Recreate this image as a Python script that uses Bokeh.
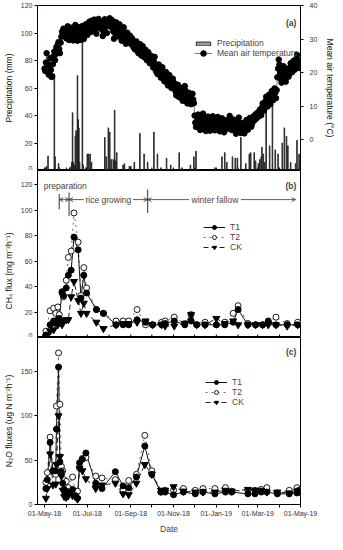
import pandas as pd
from bokeh.plotting import figure
from bokeh.layouts import column
from bokeh.models import (Range1d, LinearAxis, FixedTicker, DatetimeTickFormatter,
                          Legend, LegendItem, Label, Arrow, OpenHead)
from bokeh.embed import file_html
from bokeh.resources import INLINE

# ----------------------------- data -----------------------------
# (a) daily mean air temperature (deg C), starting 2018-05-01
temp_start = "2018-05-01"
temp_may = [21.2, 20.5, 23.0, 25.8, 22.6, 20.1, 19.4, 22.0, 24.3, 20.8, 18.7, 18.9, 22.5, 24.9, 26.3,
            23.7, 25.5, 27.6, 26.2, 28.4, 29.1, 27.0, 25.8, 28.9, 30.7, 32.2, 31.0, 33.1, 32.4, 30.9, 31.5]
temp_jun = [30.2, 32.6, 33.8, 31.4, 29.7, 30.5, 32.9, 33.4, 31.8, 30.1, 29.6, 31.2, 33.0, 34.2, 32.5,
            30.8, 29.5, 31.7, 33.6, 32.0, 30.3, 29.8, 32.4, 33.9, 31.5, 30.0, 31.9, 33.2, 34.4, 32.7]
temp_jul = [31.2, 33.5, 34.6, 35.2, 33.8, 32.1, 34.9, 35.5, 34.0, 33.2, 35.8, 34.7, 33.0, 31.6, 34.3,
            35.6, 36.0, 34.8, 33.4, 35.1, 34.2, 32.8, 30.9, 32.5, 34.6, 35.9, 35.3, 33.7, 31.8, 33.9, 35.0]
temp_aug = [35.4, 36.2, 34.9, 33.6, 35.7, 34.5, 32.3, 30.1, 31.8, 33.9, 35.0, 34.2, 32.6, 30.8, 33.1,
            34.4, 33.0, 31.2, 29.5, 30.9, 32.7, 33.5, 31.4, 29.8, 28.6, 30.3, 31.9, 30.5, 28.9, 29.7, 31.0]
temp_sep = [29.6, 28.4, 30.2, 29.0, 27.5, 28.8, 26.9, 27.7, 29.3, 28.1, 26.4, 25.8, 27.2, 28.5, 26.7,
            25.1, 26.3, 27.9, 26.0, 24.6, 25.4, 26.8, 24.9, 23.7, 25.2, 26.1, 24.3, 22.8, 23.9, 25.0]
temp_oct = [24.2, 22.6, 21.5, 23.3, 24.7, 22.1, 20.4, 21.8, 19.6, 20.9, 22.4, 21.0, 19.2, 18.5, 20.3,
            21.6, 19.9, 18.1, 17.4, 19.0, 20.2, 18.7, 17.0, 16.2, 17.8, 19.3, 18.0, 16.5, 15.4, 16.9, 18.2]
temp_nov = [17.1, 15.8, 16.6, 14.3, 13.2, 15.0, 16.4, 14.8, 12.7, 13.9, 15.5, 14.1, 12.3, 11.6, 13.4,
            15.2, 16.0, 14.6, 12.9, 11.2, 10.8, 12.5, 14.0, 13.1, 11.4, 10.6, 12.2, 13.7, 12.0, 10.9]
temp_dec = [7.2, 5.1, 3.8, 4.6, 6.3, 7.5, 5.8, 4.2, 2.9, 3.5, 5.0, 6.7, 7.8, 6.1, 4.4,
            3.2, 2.6, 4.0, 5.5, 6.9, 5.3, 3.9, 2.7, 3.6, 4.8, 6.2, 7.0, 5.6, 4.1, 2.8, 3.4]
temp_jan = [4.3, 5.7, 6.8, 5.2, 3.4, 2.5, 3.9, 5.1, 6.4, 4.7, 3.1, 2.2, 3.7, 4.9, 5.8,
            4.5, 3.3, 4.6, 5.9, 7.1, 5.4, 4.0, 2.9, 3.8, 5.2, 6.0, 4.4, 3.0, 1.8, 2.7, 4.1]
temp_feb = [5.5, 6.6, 4.8, 3.2, 2.0, 3.6, 5.0, 4.2, 2.5, 1.9, 3.3, 4.7, 5.9, 4.4, 3.0,
            4.5, 5.8, 6.5, 5.1, 3.9, 4.8, 6.2, 7.0, 5.7, 6.8, 7.6, 6.3, 7.2]
temp_mar = [8.1, 6.9, 7.8, 9.0, 8.4, 7.3, 9.6, 10.8, 9.5, 8.7, 10.2, 11.5, 12.8, 11.0, 9.9,
            11.7, 13.4, 12.1, 10.6, 12.9, 14.5, 13.2, 11.8, 13.6, 15.3, 14.0, 12.4, 14.8, 18.6, 21.2, 23.9]
temp_apr = [22.4, 19.8, 18.1, 17.0, 18.9, 20.6, 21.9, 20.2, 18.5, 17.3, 19.4, 21.1, 20.0, 18.8, 19.7,
            21.5, 22.8, 21.3, 20.1, 22.0, 23.5, 22.2, 20.9, 22.6, 24.1, 25.3, 23.8, 22.5, 21.4, 23.0]

# (a) daily precipitation (mm), rain days only
precip_dates = ["2018-05-03", "2018-05-04", "2018-05-06", "2018-05-15", "2018-05-16", "2018-05-21",
                "2018-05-22", "2018-06-04", "2018-06-06", "2018-06-08", "2018-06-09", "2018-06-10",
                "2018-06-11", "2018-06-13", "2018-06-14", "2018-06-15", "2018-06-17", "2018-06-18",
                "2018-06-19", "2018-06-20", "2018-06-24", "2018-06-25", "2018-06-29", "2018-07-01",
                "2018-07-03", "2018-07-05", "2018-07-07", "2018-07-26", "2018-07-28", "2018-07-31",
                "2018-08-02", "2018-08-04", "2018-08-07", "2018-08-09", "2018-08-10", "2018-08-12",
                "2018-08-21", "2018-08-23", "2018-08-30", "2018-09-01", "2018-09-06", "2018-09-14",
                "2018-09-20", "2018-09-25", "2018-10-04", "2018-10-09", "2018-10-14", "2018-10-22",
                "2018-10-28", "2018-11-09", "2018-11-13", "2018-11-25", "2018-11-30", "2018-12-03",
                "2018-12-30", "2019-01-09", "2019-01-13", "2019-01-16", "2019-01-24", "2019-01-28",
                "2019-01-31", "2019-02-05", "2019-02-12", "2019-02-17", "2019-02-19", "2019-02-24",
                "2019-02-26", "2019-03-02", "2019-03-04", "2019-03-06", "2019-03-07", "2019-03-09",
                "2019-03-11", "2019-03-13", "2019-03-18", "2019-03-22", "2019-03-26", "2019-03-30",
                "2019-04-05", "2019-04-08", "2019-04-11", "2019-04-13", "2019-04-17", "2019-04-24",
                "2019-04-26", "2019-04-29"]
precip_mm = [2, 3, 10.5, 70, 10, 5,
             2, 1, 2, 3, 6, 42,
             6, 4, 25, 29, 69, 37,
             31, 6, 100, 4, 2, 12,
             12, 12, 6, 24, 10, 31,
             28, 8, 8, 44, 7, 13,
             4, 5, 3, 3, 6, 27,
             12, 6, 28, 12, 2, 9,
             4, 13, 2, 4, 10, 14,
             2, 10, 13, 6, 10, 9,
             9, 24, 5, 12, 13, 13,
             7, 5, 8, 10, 17, 12,
             6, 51, 18, 48, 15, 12,
             20, 31, 25, 18, 6, 5,
             22, 12]

# (b) CH4 flux (mg m-2 h-1)
ch4_dates = ["2018-05-03", "2018-05-09", "2018-05-14", "2018-05-17", "2018-05-20", "2018-05-22",
             "2018-05-26", "2018-05-28", "2018-06-01", "2018-06-04", "2018-06-08", "2018-06-12",
             "2018-06-18", "2018-06-22", "2018-06-26", "2018-06-30", "2018-07-14", "2018-07-24",
             "2018-08-11", "2018-08-21", "2018-08-29", "2018-09-10", "2018-09-22", "2018-10-02",
             "2018-10-15", "2018-10-20", "2018-11-02", "2018-11-17", "2018-11-26", "2018-12-04",
             "2018-12-16", "2019-01-01", "2019-01-13", "2019-01-25", "2019-02-01", "2019-02-15",
             "2019-02-26", "2019-03-08", "2019-03-16", "2019-03-27", "2019-04-12", "2019-04-27"]
ch4_t1 = [2, 10, 13, 11, 14, 15, 36, 33, 39, 49, 53, 79, 69, 31, 49, 35, 22, 19, 10, 10, 10,
          14, 12, 10, 10, 11, 13, 10, 13, 10, 10, 10, 10, 12, 22, 10, 10, 10, 13, 10, 10, 10]
ch4_t2 = [5, 21, 23, 19, 24, 18, 35, 32, 45, 63, 68, 98, 75, 33, 55, 39, 22, 19, 13, 13, 13,
          22, 10, 10, 12, 13, 16, 11, 18, 10, 12, 10, 12, 19, 25, 11, 10, 10, 12, 16, 11, 12]
ch4_ck = [0.5, 5, 6, 12, 10, 12, 10, 13, 14, 14, 32, 44, 29, 19, 27, 19, 12, 7, 10, 11, 11,
          12, 13, 10, 10, 9, 9, 11, 18, 10, 10, 15, 11, 13, 10, 10, 10, 10, 10, 10, 9, 10]

# (c) N2O fluxes (ug N m-2 h-1)
n2o_dates = ["2018-05-03", "2018-05-05", "2018-05-09", "2018-05-13", "2018-05-17", "2018-05-18",
             "2018-05-21", "2018-05-23", "2018-05-25", "2018-05-27", "2018-05-29", "2018-06-01",
             "2018-06-04", "2018-06-10", "2018-06-14", "2018-06-17", "2018-06-20", "2018-06-24",
             "2018-06-29", "2018-07-13", "2018-07-22", "2018-08-10", "2018-08-21", "2018-08-29",
             "2018-09-09", "2018-09-21", "2018-10-01", "2018-10-14", "2018-10-20", "2018-11-01",
             "2018-11-15", "2018-12-02", "2018-12-13", "2018-12-30", "2019-01-14", "2019-01-23",
             "2019-02-15", "2019-02-25", "2019-03-06", "2019-03-14", "2019-03-29", "2019-04-15",
             "2019-04-26", "2019-04-29"]
n2o_t1 = [18, 28, 70, 38, 38, 85, 155, 48, 37, 24, 17, 15, 14, 17, 10, 7, 47, 51, 58, 24, 18, 37,
          21, 19, 31, 66, 34, 14, 14, 11, 14, 12, 14, 12, 14, 14, 12, 12, 14, 14, 12, 12, 13, 14]
n2o_t2 = [25, 36, 76, 37, 34, 111, 171, 113, 43, 38, 28, 26, 19, 31, 15, 15, 41, 52, 53, 32, 30, 28,
          16, 27, 34, 78, 38, 14, 16, 16, 18, 16, 18, 18, 19, 15, 16, 16, 17, 19, 13, 16, 19, 16]
n2o_ck = [7, 18, 57, 22, 23, 45, 100, 54, 32, 16, 9, 8, 10, 10, 9, 6, 41, 38, 29, 18, 22, 24,
          12, 11, 24, 45, 34, 16, 16, 20, 15, 14, 14, 14, 16, 15, 17, 16, 16, 14, 14, 13, 15, 16]

# axes / ticks
x_tick_dates = ["2018-05-01", "2018-07-01", "2018-09-01", "2018-11-01", "2019-01-01", "2019-03-01", "2019-05-01"]
x_minor_dates = ["2018-06-01", "2018-08-01", "2018-10-01", "2018-12-01", "2019-02-01", "2019-04-01"]
precip_ticks = [0, 20, 40, 60, 80, 100, 120]
temp_ticks = [0, 10, 20, 30, 40]
ch4_ticks = [0, 20, 40, 60, 80, 100, 120]
n2o_ticks = [0, 50, 100, 150]

# management stages
stage_bounds = ["2018-05-22", "2018-06-05", "2018-09-25", "2019-04-24"]
stage_names = ["preparation", "rice growing", "winter fallow"]

# ----------------------------- helpers -----------------------------
FONT = "Liberation Sans"
DAY = 86400000.0


def ms(d):
    return pd.Timestamp(d).value / 1e6


temperature = (temp_may + temp_jun + temp_jul + temp_aug + temp_sep + temp_oct + temp_nov +
               temp_dec + temp_jan + temp_feb + temp_mar + temp_apr)
temp_x = pd.date_range(temp_start, periods=len(temperature), freq="D")
all_tick_ms = [ms(d) for d in x_tick_dates + x_minor_dates]

FW = 263
x_range = Range1d(ms("2018-04-21"), ms("2019-05-01"))


def style_y(ax, ticks):
    ax.ticker = FixedTicker(ticks=ticks)
    ax.axis_line_color = "black"
    ax.axis_line_width = 1
    ax.major_tick_line_color = "black"
    ax.major_tick_out = 3
    ax.major_tick_in = 0
    ax.minor_tick_line_color = None
    ax.major_label_text_font = FONT
    ax.major_label_text_font_size = "7px"
    ax.major_label_text_color = "#333333"
    ax.major_label_standoff = 2
    ax.axis_label_text_font = FONT
    ax.axis_label_text_font_size = "8.5px"
    ax.axis_label_text_font_style = "normal"
    ax.axis_label_text_color = "#111111"
    ax.axis_label_standoff = 4


def make_fig(frame_h, y_top, top_border, with_x_axis):
    p = figure(frame_width=FW, frame_height=frame_h, x_axis_type="datetime",
               x_range=x_range, y_range=Range1d(0, y_top),
               x_axis_location="below" if with_x_axis else None,
               output_backend="svg", toolbar_location=None,
               min_border_left=32, min_border_right=32, min_border_top=top_border,
               min_border_bottom=0)
    p.xgrid.visible = False
    p.ygrid.visible = False
    p.outline_line_color = "black"
    p.outline_line_width = 1
    p.background_fill_color = "white"
    p.border_fill_color = "white"
    if not with_x_axis:
        # month tick marks along the shared bottom edge
        p.segment(x0=all_tick_ms, y0=0, x1=all_tick_ms, y1=y_top * 3.0 / frame_h,
                  line_color="black", line_width=1)
    return p


def flux_legend(p, rends, loc):
    items = [LegendItem(label=n, renderers=r) for n, r in zip(["T1", "T2", "CK"], rends)]
    lg = Legend(items=items, location=loc, orientation="vertical",
                glyph_width=22, glyph_height=10, label_height=9, spacing=0,
                padding=0, margin=0, label_standoff=5,
                label_text_font=FONT, label_text_font_size="8.5px", label_text_line_height=0.8,
                background_fill_alpha=0, border_line_color=None)
    p.add_layout(lg)


def draw_flux(p, dates, t1, t2, ck):
    x = pd.to_datetime(dates)
    l2 = p.line(x, t2, line_color="#666666", line_width=1, line_dash="dotted")
    lc = p.line(x, ck, line_color="#222222", line_width=1, line_dash="5 3")
    l1 = p.line(x, t1, line_color="#111111", line_width=1)
    s2 = p.scatter(x, t2, marker="circle", size=6, fill_color="white", line_color="black", line_width=0.9)
    sc = p.scatter(x, ck, marker="inverted_triangle", size=7, fill_color="black", line_color="black")
    s1 = p.scatter(x, t1, marker="circle", size=6, fill_color="black", line_color="black")
    return [[l1, s1], [l2, s2], [lc, sc]]


def panel_tag(p, text, y):
    p.add_layout(Label(x=ms("2019-04-25"), y=y, text=text, text_align="right", text_baseline="middle",
                       text_font=FONT, text_font_size="8.5px", text_font_style="bold"))


# ----------------------------- (a) -----------------------------
pa = make_fig(165, 120, 5, False)
pa.extra_y_ranges = {"temp": Range1d(-9.16, 40)}
style_y(pa.yaxis[0], precip_ticks)
pa.yaxis[0].axis_label = "Precipitation (mm)"
rax = LinearAxis(y_range_name="temp", axis_label="Mean air temperature (\u00b0C)")
style_y(rax, temp_ticks)
rax.major_label_standoff = 6
rax.axis_label_standoff = 5
pa.add_layout(rax, "right")

bars = pa.vbar(x=pd.to_datetime(precip_dates), top=precip_mm, width=0.9 * DAY,
               fill_color="#9a9a9a", line_color="#111111", line_width=0.8)
tl = pa.line(temp_x, temperature, y_range_name="temp", line_color="#555555", line_width=0.8)
ts = pa.scatter(temp_x, temperature, y_range_name="temp", marker="circle", size=5.5,
                fill_color="black", line_color="black")

lg_p = Legend(items=[LegendItem(label="Precipitation", renderers=[bars])], location=(157, 122),
              glyph_width=18, glyph_height=5, label_height=9, padding=0, margin=0, spacing=0,
              label_standoff=5, label_text_font=FONT, label_text_font_size="8.5px",
              background_fill_alpha=0, border_line_color=None)
lg_t = Legend(items=[LegendItem(label="Mean air temperature", renderers=[tl, ts])], location=(157, 110),
              glyph_width=18, glyph_height=14, label_height=9, padding=0, margin=0, spacing=0,
              label_standoff=5, label_text_font=FONT, label_text_font_size="8.5px",
              background_fill_alpha=0, border_line_color=None)
pa.add_layout(lg_p)
pa.add_layout(lg_t)
panel_tag(pa, "(a)", 107)

# ----------------------------- (b) -----------------------------
pb = make_fig(167, 131.4, 0, False)
style_y(pb.yaxis[0], ch4_ticks)
pb.yaxis[0].axis_label = "CH\u2084 flux (mg m\u207b\u00b2h\u207b\u00b9)\u2003\u2003\u2003\u2003"
rb = draw_flux(pb, ch4_dates, ch4_t1, ch4_t2, ch4_ck)
flux_legend(pb, rb, (166, 85))
panel_tag(pb, "(b)", 119.5)

# stage annotations
sb = [ms(d) for d in stage_bounds]
y_arrow = 108.5
pb.segment(x0=sb[:3], y0=[101, 95.5, 98], x1=sb[:3], y1=[113, 114, 116.5],
           line_color="#555555", line_width=1.2)
pb.add_layout(Label(x=ms("2018-04-30"), y=119.5, text=stage_names[0], text_baseline="middle",
                    text_align="left", text_font=FONT, text_font_size="8.5px"))


def arrow(p, x0, x1, both=False):
    p.add_layout(Arrow(end=OpenHead(size=4, line_width=0.8, line_color="#333333"),
                       start=OpenHead(size=4, line_width=0.8, line_color="#333333") if both else None,
                       x_start=x0, y_start=y_arrow, x_end=x1, y_end=y_arrow,
                       line_width=0.8, line_color="#333333"))


arrow(pb, sb[0], sb[1], both=True)
rice_c = ms("2018-07-31")
fallow_c = ms("2018-12-30")
arrow(pb, rice_c - 35 * DAY, sb[1])
arrow(pb, rice_c + 35 * DAY, sb[2])
arrow(pb, fallow_c - 37 * DAY, sb[2])
arrow(pb, fallow_c + 37 * DAY, sb[3])
for cx, name in [(rice_c, stage_names[1]), (fallow_c, stage_names[2])]:
    pb.add_layout(Label(x=cx, y=y_arrow, text=name, text_baseline="middle", text_align="center",
                        text_font=FONT, text_font_size="8.5px"))

# ----------------------------- (c) -----------------------------
pc = make_fig(167, 188.4, 0, True)
style_y(pc.yaxis[0], n2o_ticks)
pc.yaxis[0].axis_label = "N\u2082O fluxes (ug N m\u207b\u00b2h\u207b\u00b9)"
xa = pc.xaxis[0]
xa.ticker = FixedTicker(ticks=[ms(d) for d in x_tick_dates],
                        minor_ticks=[ms(d) for d in x_minor_dates])
xa.formatter = DatetimeTickFormatter(days="%d-%b-%y", months="%d-%b-%y", years="%d-%b-%y",
                                     strip_leading_zeros=False)
xa.axis_line_color = "black"
xa.major_tick_line_color = "black"
xa.minor_tick_line_color = "black"
xa.major_tick_out = 3
xa.major_tick_in = 0
xa.minor_tick_out = 3
xa.minor_tick_in = 0
xa.major_label_text_font = FONT
xa.major_label_text_font_size = "7px"
xa.major_label_text_color = "#333333"
xa.major_label_standoff = 2
xa.axis_label = "Date"
xa.axis_label_text_font = FONT
xa.axis_label_text_font_size = "8.5px"
xa.axis_label_text_font_style = "normal"
xa.axis_label_standoff = 4
rc = draw_flux(pc, n2o_dates, n2o_t1, n2o_t2, n2o_ck)
flux_legend(pc, rc, (168, 97))
panel_tag(pc, "(c)", 172)

layout = column(pa, pb, pc, spacing=0)
open("out.html", "w").write(file_html(layout, INLINE))
